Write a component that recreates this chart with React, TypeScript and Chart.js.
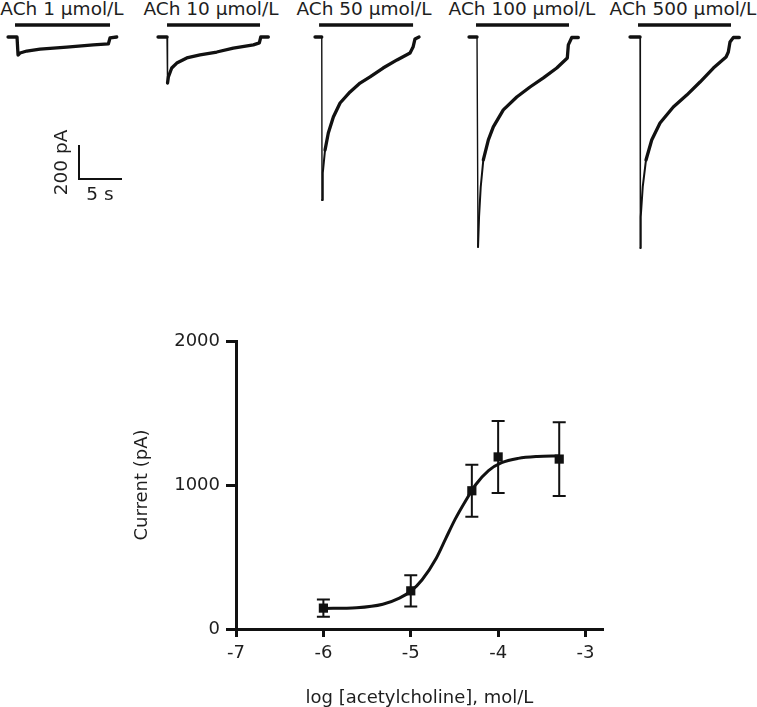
import React, { useEffect, useRef } from 'react';
import { Chart, registerables } from 'chart.js';

Chart.register(...registerables);

// ---------------- Dose–response data ----------------
const LOG_CONC = [-6, -5, -4.301, -4, -3.301];
const MEAN_CURRENT = [145, 265, 960, 1195, 1180];
const SEM_CURRENT = [60, 108, 180, 250, 256];
const FIT_LOG_CONC = [-6, -5.62, -5.32, -5.13, -5.0, -4.87, -4.71, -4.6, -4.49, -4.37, -4.26, -4.11, -3.96, -3.77, -3.55, -3.3];
const FIT_CURRENT = [143, 148, 172, 215, 262, 342, 490, 628, 765, 893, 1000, 1100, 1155, 1185, 1198, 1202];
const X_TICKS = [-7, -6, -5, -4, -3];
const Y_TICKS = [0, 1000, 2000];
const X_TITLE = 'log [acetylcholine], mol/L';
const Y_TITLE = 'Current (pA)';

// ---------------- Current traces (time s, current pA) ----------------
const TRACE_LABELS = ['ACh 1 µmol/L', 'ACh 10 µmol/L', 'ACh 50 µmol/L', 'ACh 100 µmol/L', 'ACh 500 µmol/L'];
const T1_TIME = [0, 1.07, 1.19, 1.43, 2.23, 3.81, 6.99, 10.15, 11.94, 12.14, 12.94];
const T1_CURRENT = [0, 0, -109, -97, -85, -73, -61, -48, -42, -6, 0];
const T2_TIME = [0, 1.07, 1.13, 1.23, 1.63, 2.23, 3.42, 5.0, 6.99, 8.96, 11.35, 12.06, 12.23, 13.13];
const T2_CURRENT = [0, 0, -279, -242, -188, -158, -127, -109, -91, -67, -48, -36, 0, 0];
const T3_TIME = [0, 0.8, 0.83, 0.92, 1.19, 1.58, 2.18, 2.98, 4.17, 5.36, 6.55, 8.1, 9.76, 11.31, 11.67, 11.9, 12.38];
const T3_CURRENT = [0, 0, -988, -824, -685, -582, -485, -400, -333, -279, -242, -188, -139, -97, -61, -12, 0];
const T4_TIME = [0, 0.95, 1.07, 1.19, 1.39, 1.7, 2.3, 2.89, 4.08, 5.68, 7.26, 8.85, 10.44, 11.7, 11.82, 12.23, 13.01];
const T4_CURRENT = [0, 0, -1273, -1091, -909, -745, -624, -545, -442, -364, -303, -248, -188, -127, -48, -3, -3];
const T5_TIME = [0, 1.19, 1.23, 1.27, 1.51, 1.9, 2.58, 3.57, 5.15, 6.75, 8.33, 9.92, 11.43, 11.7, 11.9, 12.3, 13.01];
const T5_CURRENT = [0, 0, -1279, -1091, -909, -745, -624, -521, -424, -352, -273, -188, -121, -91, -30, -3, -3];
const APPLY_START = [0.83, 1.07, 0.48, 0.83, 0.95];
const APPLY_END = [12.14, 12.14, 11.67, 11.9, 12.02];
const SCALE_TIME = 5; // s
const SCALE_CURRENT = 200; // pA

const TRACE_TIMES = [T1_TIME, T2_TIME, T3_TIME, T4_TIME, T5_TIME];
const TRACE_CURRENTS = [T1_CURRENT, T2_CURRENT, T3_CURRENT, T4_CURRENT, T5_CURRENT];

// ---------------- Layout ----------------
const FONT = '"DejaVu Sans", sans-serif';
const INK = '#111';
const TEXT = '#1e1e1e';
const PX_PER_S = 8.4;
const PX_PER_PA = 0.165;
const BASE_Y = 37;
const BAR_Y = 25;
const TRACE_X0 = [8, 158, 315, 469, 630];
const LABEL_CX = [62, 211, 364, 522, 683];
const T_MIN = -0.6;
const TRACE_W = 126;
const TRACE_H = 262;

function TraceChart({ idx }: { idx: number }) {
  const ref = useRef<HTMLCanvasElement>(null);
  useEffect(() => {
    const time = TRACE_TIMES[idx];
    const cur = TRACE_CURRENTS[idx];
    const barLevel = (BASE_Y - BAR_Y) / PX_PER_PA;
    const chart = new Chart(ref.current!, {
      type: 'line',
      data: {
        datasets: [
          {
            data: time.map((t, i) => ({ x: t, y: cur[i] })),
            borderColor: INK,
            borderWidth: 3.3,
            pointRadius: 0,
            tension: 0,
            borderJoinStyle: 'round',
            borderCapStyle: 'round',
            segment: {
              borderWidth: (c: any) => {
                const dy = c.p1.parsed.y - c.p0.parsed.y;
                const dt = Math.max(c.p1.parsed.x - c.p0.parsed.x, 1e-6);
                if (dy < -150) return 1.4;
                if (Math.abs(dy / dt) > 400 && dy > 0 && Math.abs(c.p0.parsed.y) > 400) return 2;
                return 3.3;
              },
            },
          } as any,
          {
            data: [
              { x: APPLY_START[idx], y: barLevel },
              { x: APPLY_END[idx], y: barLevel },
            ],
            borderColor: INK,
            borderWidth: 3.5,
            pointRadius: 0,
          },
        ],
      },
      options: {
        animation: false,
        responsive: false,
        events: [],
        layout: { padding: 0 },
        plugins: { legend: { display: false }, tooltip: { enabled: false } },
        scales: {
          x: { type: 'linear', display: false, min: T_MIN, max: T_MIN + TRACE_W / PX_PER_S },
          y: { type: 'linear', display: false, min: -(TRACE_H - BASE_Y) / PX_PER_PA, max: BASE_Y / PX_PER_PA },
        },
      },
    });
    return () => chart.destroy();
  }, [idx]);
  return (
    <canvas
      ref={ref}
      width={TRACE_W}
      height={TRACE_H}
      style={{ position: 'absolute', left: TRACE_X0[idx] + T_MIN * PX_PER_S, top: 0, width: TRACE_W, height: TRACE_H }}
    />
  );
}

function ScaleBar() {
  const ref = useRef<HTMLCanvasElement>(null);
  useEffect(() => {
    const chart = new Chart(ref.current!, {
      type: 'scatter',
      data: { datasets: [{ data: [], pointRadius: 0 }] },
      options: {
        animation: false,
        responsive: false,
        events: [],
        layout: { padding: { left: 0, top: 36, right: 100 - 39 - SCALE_TIME * PX_PER_S, bottom: 0 } },
        plugins: { legend: { display: false }, tooltip: { enabled: false } },
        scales: {
          x: {
            type: 'linear', min: 0, max: SCALE_TIME,
            grid: { display: false },
            ticks: { display: false },
            border: { display: true, color: INK, width: 2 },
            title: { display: true, text: `${SCALE_TIME} s`, color: TEXT, font: { family: FONT, size: 18.5, lineHeight: 1.2 }, padding: { top: 0, bottom: 4 } },
            afterFit: (s: any) => { s.height = 100 - 36 - SCALE_CURRENT * PX_PER_PA; },
          },
          y: {
            type: 'linear', min: 0, max: SCALE_CURRENT,
            grid: { display: false },
            ticks: { display: false },
            border: { display: true, color: INK, width: 2 },
            title: { display: true, text: `${SCALE_CURRENT} pA`, color: TEXT, font: { family: FONT, size: 18.5, lineHeight: 1.2 }, padding: { top: 11, bottom: 0 } },
            afterFit: (s: any) => { s.width = 39; },
          },
        },
      },
    });
    return () => chart.destroy();
  }, []);
  return <canvas ref={ref} width={100} height={100} style={{ position: 'absolute', left: 40, top: 110, width: 100, height: 100 }} />;
}

const errorBarPlugin = {
  id: 'errorBars',
  afterDatasetsDraw(chart: any) {
    const { ctx, scales } = chart;
    const xs = scales.x;
    const ys = scales.y;
    ctx.save();
    ctx.strokeStyle = INK;
    ctx.lineWidth = 2;
    LOG_CONC.forEach((c, i) => {
      const px = xs.getPixelForValue(c);
      const top = ys.getPixelForValue(MEAN_CURRENT[i] + SEM_CURRENT[i]);
      const bot = ys.getPixelForValue(MEAN_CURRENT[i] - SEM_CURRENT[i]);
      ctx.beginPath();
      ctx.moveTo(px, top);
      ctx.lineTo(px, bot);
      ctx.moveTo(px - 6.5, top);
      ctx.lineTo(px + 6.5, top);
      ctx.moveTo(px - 6.5, bot);
      ctx.lineTo(px + 6.5, bot);
      ctx.stroke();
    });
    ctx.restore();
  },
};

function DoseResponse() {
  const ref = useRef<HTMLCanvasElement>(null);
  useEffect(() => {
    const chart = new Chart(ref.current!, {
      type: 'scatter',
      data: {
        datasets: [
          {
            data: LOG_CONC.map((x, i) => ({ x, y: MEAN_CURRENT[i] })),
            pointStyle: 'rect',
            pointRadius: 6.5,
            backgroundColor: INK,
            borderColor: INK,
            borderWidth: 0,
            showLine: false,
            order: 0,
          },
          {
            data: FIT_LOG_CONC.map((x, i) => ({ x, y: FIT_CURRENT[i] })),
            showLine: true,
            pointRadius: 0,
            borderColor: INK,
            borderWidth: 3,
            cubicInterpolationMode: 'monotone',
            order: 1,
          } as any,
        ],
      },
      options: {
        animation: false,
        responsive: false,
        events: [],
        layout: { padding: { left: 120, top: 41, right: 154, bottom: 0 } },
        plugins: { legend: { display: false }, tooltip: { enabled: false } },
        scales: {
          x: {
            type: 'linear',
            min: -7,
            max: -2.8,
            afterBuildTicks: (s: any) => { s.ticks = X_TICKS.map((v) => ({ value: v })); },
            grid: { drawOnChartArea: false, drawTicks: true, tickLength: 8, tickWidth: 3, tickColor: INK },
            border: { display: true, color: INK, width: 3 },
            ticks: { color: TEXT, font: { family: FONT, size: 18 }, padding: 6, maxRotation: 0, callback: (v: any) => String(v) },
            title: { display: true, text: X_TITLE, color: TEXT, font: { family: FONT, size: 18, lineHeight: 1 }, padding: { top: 0, bottom: 0 } },
            afterFit: (s: any) => { s.height = 78; },
          },
          y: {
            type: 'linear',
            min: 0,
            max: 2000,
            afterBuildTicks: (s: any) => { s.ticks = Y_TICKS.map((v) => ({ value: v })); },
            grid: { drawOnChartArea: false, drawTicks: true, tickLength: 10, tickWidth: 3, tickColor: INK },
            border: { display: true, color: INK, width: 3 },
            ticks: { color: TEXT, font: { family: FONT, size: 18 }, padding: 6, callback: (v: any) => String(v) },
            title: { display: true, text: Y_TITLE, color: TEXT, font: { family: FONT, size: 18, lineHeight: 1 }, padding: { top: 13, bottom: 0 } },
            afterFit: (s: any) => { s.width = 116; },
          },
        },
      },
      plugins: [errorBarPlugin],
    });
    return () => chart.destroy();
  }, []);
  return <canvas ref={ref} width={757} height={407} style={{ position: 'absolute', left: 0, top: 300, width: 757, height: 407 }} />;
}

export default function App() {
  return (
    <div style={{ position: 'fixed', left: 0, top: 0, width: 757, height: 707, background: '#fff', overflow: 'hidden' }}>
      {TRACE_LABELS.map((label, i) => (
        <div
          key={label}
          style={{
            position: 'absolute',
            left: LABEL_CX[i] - 100,
            top: 0,
            width: 200,
            textAlign: 'center',
            fontFamily: FONT,
            fontSize: 18.5,
            lineHeight: 1,
            color: TEXT,
            whiteSpace: 'nowrap',
          }}
        >
          {label}
        </div>
      ))}
      {TRACE_LABELS.map((label, i) => (
        <TraceChart key={'t' + i} idx={i} />
      ))}
      <ScaleBar />
      <DoseResponse />
    </div>
  );
}
